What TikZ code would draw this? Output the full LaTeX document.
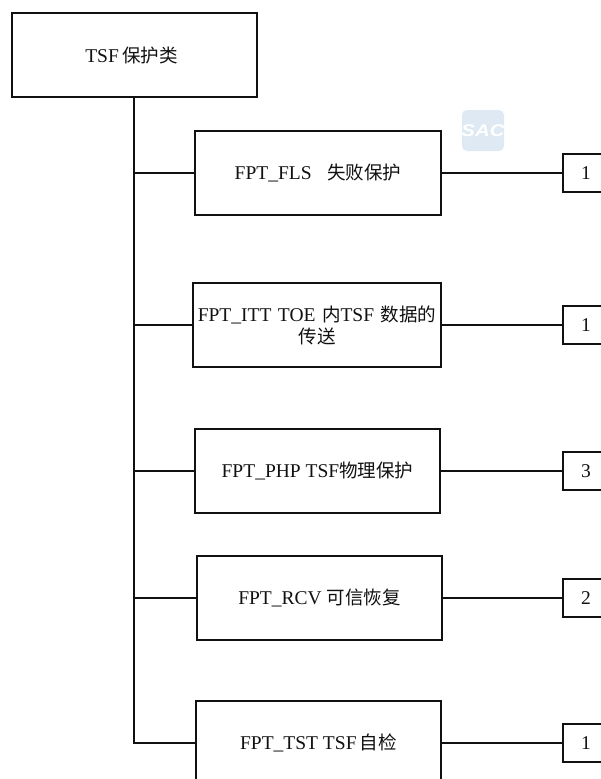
\documentclass[tikz,border=0pt]{standalone}
\usepackage{fontspec}
\setmainfont{Liberation Serif}
\newfontfamily\cjk{Noto Sans CJK SC}[Scale=0.95]
\newfontfamily\wm{Liberation Sans}[Scale=1]
\newcommand{\zh}[1]{{\cjk #1}}
\definecolor{wmblue}{HTML}{DFE9F4}
\definecolor{inkc}{HTML}{111111}
\begin{document}
\begin{tikzpicture}[x=1pt,y=-1pt,
  line/.style={draw=inkc,line width=1.8pt},
  mainbox/.style={line,fill=white,inner sep=1pt,align=center,text=inkc,font=\fontsize{19.5}{22}\selectfont,anchor=center},
  countbox/.style={line,fill=white,minimum width=46pt,minimum height=38pt,inner sep=0pt,text=inkc,font=\fontsize{19.5}{22}\selectfont}]
\useasboundingbox (0,0) rectangle (601,779);
\clip (0,0) rectangle (601,779);
% watermark
\fill[wmblue,rounded corners=5pt] (462,110) rectangle (504,151);
\node[inner sep=0pt,text=white,font=\wm\fontsize{17}{17}\selectfont\bfseries\itshape,xscale=1.2] (mark) at (483,131) {SAC};
% main boxes
\node[mainbox,minimum width=245pt,minimum height=84pt] (top) at (134.5,55) {TSF\,\zh{保护类}\hspace{6pt}};
\node[mainbox,minimum width=246pt,minimum height=84pt] (fls) at (318,173) {FPT\_FLS\hspace{0.8em}\zh{失败保护}};
\node[mainbox,text width=246pt,minimum height=84pt] (itt) at (317,325) {FPT\_ITT TOE \zh{内}TSF \zh{数据的}\\[0pt]\zh{传送}};
\node[mainbox,minimum width=245pt,minimum height=84pt] (php) at (317.5,471) {FPT\_PHP TSF\zh{物理保护}};
\node[mainbox,minimum width=245pt,minimum height=84pt] (rcv) at (319.5,598) {FPT\_RCV \zh{可信恢复}};
\node[mainbox,minimum width=245pt,minimum height=84pt] (tst) at (318.5,743) {FPT\_TST TSF\,\zh{自检}};
% count boxes
\node[countbox] (c1) at (586,173) {1};
\node[countbox] (c2) at (586,325) {1};
\node[countbox] (c3) at (586,471) {3};
\node[countbox] (c4) at (586,598) {2};
\node[countbox] (c5) at (586,743) {1};
% trunk
\coordinate (t0) at ([xshift=-0.5pt]top.south);
\coordinate (j1) at (t0 |- fls.west);
\coordinate (j2) at (t0 |- itt.west);
\coordinate (j3) at (t0 |- php.west);
\coordinate (j4) at (t0 |- rcv.west);
\draw[line] (t0) |- (tst.west);
\draw[line] (j1) -- (fls.west);
\draw[line] (j2) -- (itt.west);
\draw[line] (j3) -- (php.west);
\draw[line] (j4) -- (rcv.west);
\draw[line] (fls.east) -- (c1.west);
\draw[line] (itt.east) -- (c2.west);
\draw[line] (php.east) -- (c3.west);
\draw[line] (rcv.east) -- (c4.west);
\draw[line] (tst.east) -- (c5.west);
\end{tikzpicture}
\end{document}
